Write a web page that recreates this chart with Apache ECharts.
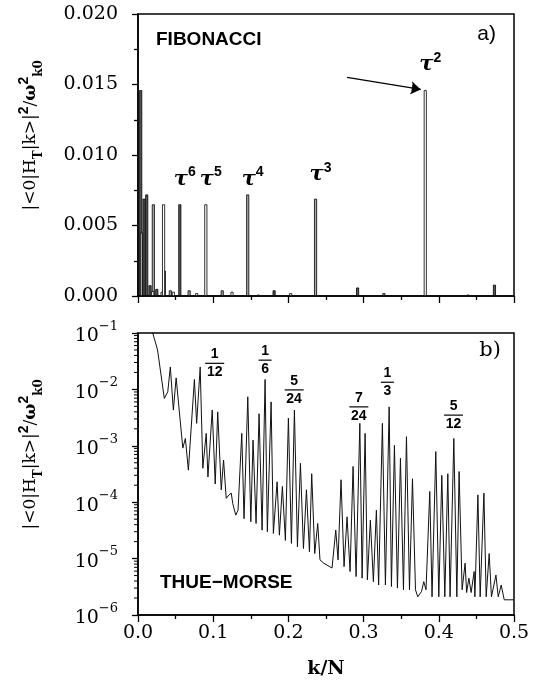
<!DOCTYPE html>
<html><head><meta charset="utf-8">
<script src="https://cdn.jsdelivr.net/npm/echarts@6/dist/echarts.min.js"></script>
<style>html,body{margin:0;padding:0;background:#fff}#c{width:546px;height:694px}</style>
</head><body><div id="c"></div>
<script>
// ---------- tick labels ----------
const xTickLabels = ['0.0', '0.1', '0.2', '0.3', '0.4', '0.5'];
const fibYTickLabels = ['0.000', '0.005', '0.010', '0.015', '0.020'];
const tmYTickExponents = ['\u22126', '\u22125', '\u22124', '\u22123', '\u22122', '\u22121'];

// ---------- panel a) Fibonacci: peaks [k/N, value] ----------
const fibDark = [[0.0036, 0.0146], [0.0080, 0.0069], [0.0116, 0.0072], [0.0160, 0.00076], [0.0250, 0.0005],
  [0.0350, 0.0018], [0.0556, 0.0065], [0.1810, 0.0004], [0.2920, 0.0006], [0.4740, 0.0008]];
const fibGray = [[0.0045, 0.0045], [0.0204, 0.0065], [0.0430, 0.0004], [0.0680, 0.0004], [0.1120, 0.0004],
  [0.1459, 0.0072], [0.2361, 0.0069], [0.3270, 0.0002]];
const fibOpen = [[0.0196, 0.00035], [0.0320, 0.0003], [0.0340, 0.0065], [0.0470, 0.0003], [0.0780, 0.0002],
  [0.0902, 0.0065], [0.1250, 0.0003], [0.1600, 0.0001], [0.2030, 0.0002], [0.3820, 0.0146], [0.4390, 0.0001]];
// tau^n labels: [exponent, k/N, value at label centre]
const fibPeakLabels = [['6', 0.0556, 0.0084], ['5', 0.0902, 0.0084], ['4', 0.1459, 0.0084],
  ['3', 0.2361, 0.0087], ['2', 0.3820, 0.0165]];
const arrowFrom = [0.278, 0.0155];
const arrowTo = [0.376, 0.01465];

// ---------- panel b) Thue-Morse ----------
const tmK = [0.000, 0.0196, 0.026, 0.035, 0.0396, 0.043, 0.047, 0.0507, 0.0596, 0.063, 0.067,
  0.075, 0.078, 0.0827, 0.0862, 0.0907, 0.093, 0.0987, 0.1027, 0.106, 0.1107, 0.1138, 0.1173, 0.121, 0.124, 0.126,
  0.130, 0.133, 0.138, 0.141, 0.146, 0.150, 0.153, 0.157, 0.161, 0.165, 0.169, 0.172, 0.177, 0.180,
  0.185, 0.188, 0.192, 0.196, 0.200, 0.204, 0.208, 0.212, 0.216, 0.220, 0.224, 0.228, 0.231, 0.235,
  0.239, 0.242, 0.247, 0.258, 0.263, 0.266, 0.270, 0.274, 0.278, 0.282, 0.286, 0.290, 0.295, 0.298,
  0.302, 0.305, 0.309, 0.313, 0.317, 0.320, 0.325, 0.329, 0.334, 0.337, 0.341, 0.345, 0.349, 0.353,
  0.357, 0.361, 0.365, 0.369, 0.372, 0.377, 0.380, 0.383, 0.388, 0.391, 0.396, 0.400, 0.404, 0.408,
  0.412, 0.415, 0.420, 0.424, 0.427, 0.431, 0.435, 0.437, 0.440, 0.443, 0.447, 0.448, 0.452, 0.455,
  0.460, 0.463, 0.467, 0.470, 0.476, 0.479, 0.483, 0.487, 0.500];
const tmV = [0.8, 1.0e-1, 5.0e-2, 6.9e-3, 9.1e-3, 2.5e-2, 4.3e-3, 1.6e-2, 9.1e-4, 1.35e-3, 3.7e-4,
  1.5e-2, 2.5e-3, 2.5e-2, 4.0e-4, 1.66e-3, 2.8e-4, 4.3e-3, 2.1e-4, 4.0e-3, 1.66e-4, 5.6e-4, 1.17e-4, 1.35e-4, 1.45e-4, 9.5e-5,
  5.9e-5, 7.2e-5, 1.66e-3, 5.1e-5, 7.4e-3, 4.5e-5, 1.26e-3, 4.2e-5, 3.7e-3, 3.2e-5, 1.5e-2, 3.0e-5, 6.0e-3, 2.8e-5,
  2.3e-4, 2.6e-5, 1.9e-4, 2.1e-5, 3.1e-3, 1.86e-5, 4.3e-3, 1.62e-5, 4.9e-4, 1.51e-5, 1.66e-4, 1.32e-5, 3.2e-4, 1.23e-5,
  4.2e-5, 9.5e-6, 8.3e-6, 6.8e-6, 3.2e-5, 9.5e-6, 2.5e-4, 7.2e-6, 5.5e-5, 5.9e-6, 4.3e-4, 4.8e-6, 2.5e-3, 4.5e-6,
  1.66e-3, 4.2e-6, 4.8e-5, 3.9e-6, 7.2e-5, 3.4e-6, 2.5e-3, 3.4e-6, 4.9e-3, 3.2e-6, 1.02e-3, 3.0e-6, 6.0e-4, 2.8e-6,
  1.45e-3, 2.8e-6, 2.6e-4, 2.8e-6, 2.1e-6, 2.6e-6, 3.9e-6, 2.8e-6, 1.55e-4, 2.1e-6, 7.9e-4, 2.1e-6, 3.0e-4, 2.1e-6,
  3.2e-4, 2.1e-6, 1.35e-3, 2.1e-6, 3.5e-4, 2.8e-6, 8.3e-6, 2.5e-6, 4.5e-6, 2.5e-6, 5.9e-6, 2.1e-6, 1.35e-4, 2.1e-6,
  1.45e-4, 2.1e-6, 1.23e-5, 2.1e-6, 5.1e-6, 2.1e-6, 3.4e-6, 1.86e-6, 1.86e-6];
// fraction labels: [numerator, denominator, k/N of label centre, value at fraction bar]
const tmFractions = [['1', '12', 0.102, 2.9e-2], ['1', '6', 0.169, 3.3e-2], ['5', '24', 0.2076, 9.8e-3],
  ['7', '24', 0.2937, 4.9e-3], ['1', '3', 0.3316, 1.34e-2], ['5', '12', 0.4196, 3.5e-3]];

// ---------- chart ----------
const serif = 'DejaVu Serif';
const sans = 'Liberation Sans';
const chart = echarts.init(document.getElementById('c'), null, {renderer: 'canvas'});

const axisLineStyle = {show: true, lineStyle: {color: '#000', width: 1.5}};
const tickStyle = {color: '#000', width: 1.3};

function barSeries(data, fill) {
  return {
    type: 'bar', xAxisIndex: 0, yAxisIndex: 0, data: data, barWidth: 3, barGap: '-100%',
    itemStyle: {color: fill, borderColor: '#000', borderWidth: 0.8}, silent: true
  };
}
const openSeries = barSeries(fibOpen, '#ffffff');
openSeries.markLine = {
  silent: true, symbol: ['none', 'arrow'], symbolSize: 10, animation: false, z: 10,
  lineStyle: {color: '#000', width: 1.2, type: 'solid'}, label: {show: false},
  data: [[{coord: arrowFrom, symbol: 'none'}, {coord: arrowTo, symbol: 'arrow', symbolSize: 10}]]
};

const option = {
  animation: false,
  backgroundColor: '#fff',
  grid: [
    {left: 138, top: 14, width: 376, height: 282, show: true, borderColor: '#000', borderWidth: 1.5},
    {left: 138, top: 333, width: 376, height: 282, show: true, borderColor: '#000', borderWidth: 1.5}
  ],
  xAxis: [
    {gridIndex: 0, type: 'value', min: 0, max: 0.5, interval: 0.1, axisLine: axisLineStyle,
      axisTick: {length: 7, lineStyle: tickStyle},
      minorTick: {show: true, splitNumber: 2, length: 4, lineStyle: tickStyle},
      axisLabel: {show: false}, splitLine: {show: false}},
    {gridIndex: 1, type: 'value', min: 0, max: 0.5, interval: 0.1, axisLine: axisLineStyle,
      axisTick: {length: 7, lineStyle: tickStyle},
      minorTick: {show: true, splitNumber: 2, length: 4, lineStyle: tickStyle},
      axisLabel: {formatter: (v, i) => xTickLabels[i], fontFamily: serif, fontSize: 19, color: '#000', margin: 9},
      splitLine: {show: false},
      name: 'k/N', nameLocation: 'middle', nameGap: 45,
      nameTextStyle: {fontFamily: serif, fontWeight: 'bold', fontSize: 19, color: '#000'}}
  ],
  yAxis: [
    {gridIndex: 0, type: 'value', min: 0, max: 0.02, interval: 0.005, axisLine: axisLineStyle,
      axisTick: {length: 6, lineStyle: tickStyle},
      minorTick: {show: true, splitNumber: 2, length: 4, lineStyle: tickStyle},
      axisLabel: {formatter: (v, i) => fibYTickLabels[i], fontFamily: serif, fontSize: 19, color: '#000', margin: 20},
      splitLine: {show: false}},
    {gridIndex: 1, type: 'log', logBase: 10, min: 1e-6, max: 1e-1, axisLine: axisLineStyle,
      axisTick: {length: 6, lineStyle: tickStyle},
      axisLabel: {
        formatter: v => '{b|10}{s|' + tmYTickExponents[Math.round(Math.log10(v)) + 6] + '}',
        margin: 20, color: '#000',
        rich: {
          b: {fontFamily: serif, fontSize: 19, color: '#000', lineHeight: 26, verticalAlign: 'bottom'},
          s: {fontFamily: serif, fontSize: 13, color: '#000', lineHeight: 14, verticalAlign: 'top'}
        }
      },
      splitLine: {show: false}}
  ],
  series: [
    barSeries(fibDark, '#555555'),
    barSeries(fibGray, '#a8a8a8'),
    openSeries,
    {type: 'line', xAxisIndex: 1, yAxisIndex: 1, data: tmK.map((k, i) => [k, tmV[i]]),
      showSymbol: false, clip: true, lineStyle: {color: '#111', width: 1}, silent: true}
  ]
};
chart.setOption(option);

// ---------- annotations (positioned through the chart's own scales) ----------
const g = [];
const p0 = (x, y) => chart.convertToPixel({gridIndex: 0}, [x, y]);
const p1 = (x, y) => chart.convertToPixel({gridIndex: 1}, [x, y]);
const yAxisTitle = '{a|\u007C<0\u007CH}{sub|T}{a|\u007Ck>\u007C}{sup|2}{a|/}{w|\u03C9}{sup|2}{sub|k0}';
const titleRich = {
  a: {fontFamily: serif, fontSize: 17, color: '#000', lineHeight: 28, verticalAlign: 'middle'},
  w: {fontFamily: serif, fontSize: 17, fontWeight: 'bold', color: '#000', lineHeight: 28, verticalAlign: 'middle'},
  sub: {fontFamily: serif, fontSize: 12, fontWeight: 'bold', color: '#000', lineHeight: 12, verticalAlign: 'bottom'},
  sup: {fontFamily: sans, fontSize: 14, fontWeight: 'bold', color: '#000', lineHeight: 14, verticalAlign: 'top'}
};
const ga = chart.getModel().getComponent('grid', 0).coordinateSystem.getRect();
const gb = chart.getModel().getComponent('grid', 1).coordinateSystem.getRect();
[[ga.y + ga.height * 0.43], [gb.y + gb.height * 0.43]].forEach(([cy]) => {
  g.push({type: 'text', x: 31, y: cy, rotation: Math.PI / 2, silent: true,
    style: {text: yAxisTitle, rich: titleRich, align: 'center', verticalAlign: 'middle'}});
});
g.push({type: 'text', x: ga.x + 18, y: ga.y + 26, silent: true,
  style: {text: 'FIBONACCI', fontFamily: sans, fontWeight: 'bold', fontSize: 19, fill: '#000', verticalAlign: 'middle'}});
g.push({type: 'text', x: ga.x + ga.width - 18, y: ga.y + 20, silent: true,
  style: {text: 'a)', fontFamily: sans, fontSize: 21, fill: '#000', align: 'right', verticalAlign: 'middle'}});
g.push({type: 'text', x: gb.x + 22, y: gb.y + 250, silent: true,
  style: {text: 'THUE\u2212MORSE', fontFamily: sans, fontWeight: 'bold', fontSize: 19, fill: '#000', verticalAlign: 'middle'}});
g.push({type: 'text', x: gb.x + gb.width - 13, y: gb.y + 18, silent: true,
  style: {text: 'b)', fontFamily: serif, fontSize: 21, fill: '#000', align: 'right', verticalAlign: 'middle'}});

fibPeakLabels.forEach(([e, k, v]) => {
  const [px, py] = p0(k, v);
  g.push({type: 'text', x: px - 6, y: py, silent: true,
    style: {text: '{t|\u03C4}{e|' + e + '}', align: 'left', verticalAlign: 'middle',
      rich: {t: {fontFamily: serif, fontStyle: 'italic', fontWeight: 'bold', fontSize: 21, color: '#000', lineHeight: 24, verticalAlign: 'bottom'},
             e: {fontFamily: sans, fontWeight: 'bold', fontSize: 14, color: '#000', lineHeight: 14, verticalAlign: 'top'}}}});
});

// arrow head drawn explicitly at the arrow's end (direction from the chart's scales)
{
  const [ax1, ay1] = p0(arrowFrom[0], arrowFrom[1]);
  const [ax2, ay2] = p0(arrowTo[0], arrowTo[1]);
  const ang = Math.atan2(ay2 - ay1, ax2 - ax1);
  const L = 9, W = 3.2;
  const bx = ax2 - L * Math.cos(ang), by = ay2 - L * Math.sin(ang);
  g.push({type: 'polygon', silent: true, z: 20, shape: {points: [[ax2, ay2],
    [bx + W * Math.sin(ang), by - W * Math.cos(ang)], [bx - W * Math.sin(ang), by + W * Math.cos(ang)]]},
    style: {fill: '#000'}});
}

tmFractions.forEach(([n, d, k, v]) => {
  const [px, py] = p1(k, v);
  const w = d.length > 1 ? 19 : 13;
  g.push({type: 'text', x: px, y: py - 2, silent: true,
    style: {text: n, fontFamily: sans, fontWeight: 'bold', fontSize: 14, fill: '#000', align: 'center', verticalAlign: 'bottom'}});
  g.push({type: 'line', silent: true, shape: {x1: px - w / 2, y1: py, x2: px + w / 2, y2: py},
    style: {stroke: '#000', lineWidth: 1.2}});
  g.push({type: 'text', x: px, y: py + 2, silent: true,
    style: {text: d, fontFamily: sans, fontWeight: 'bold', fontSize: 14, fill: '#000', align: 'center', verticalAlign: 'top'}});
});

// log-axis minor ticks at 2..9 of each decade
for (let ex = -6; ex < -1; ex++) {
  for (let m = 2; m <= 9; m++) {
    const py = p1(0, m * Math.pow(10, ex))[1];
    g.push({type: 'line', silent: true, shape: {x1: gb.x - 4, y1: py, x2: gb.x, y2: py},
      style: {stroke: '#000', lineWidth: 1}});
  }
}
chart.setOption({graphic: g});
</script>
</body></html>
